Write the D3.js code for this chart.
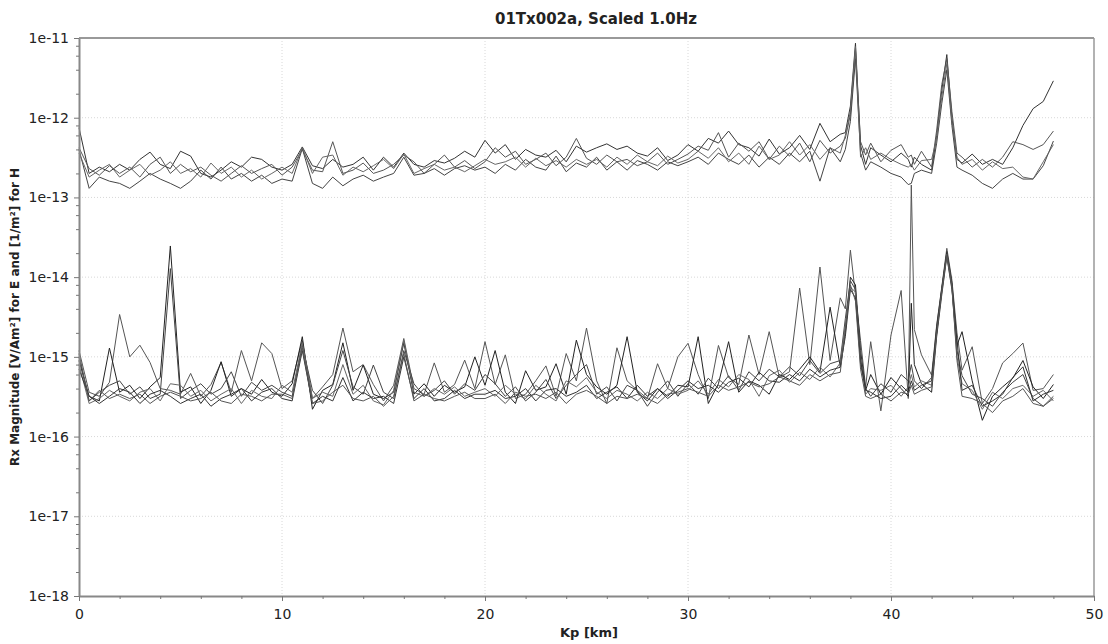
<!DOCTYPE html>
<html>
<head>
<meta charset="utf-8">
<script src="https://cdn.jsdelivr.net/npm/d3@7"></script>
<style>
body { margin: 0; background: #fff; }
</style>
</head>
<body>
<div id="chart"></div>
<script>
// sampling positions along the line, km
const kp = [
  0, 0.5, 1, 1.5, 2, 2.5, 3, 3.5, 4, 4.5,
  5, 5.5, 6, 6.5, 7, 7.5, 8, 8.5, 9, 9.5,
  10, 10.5, 11, 11.5, 12, 12.5, 13, 13.5, 14, 14.5,
  15, 15.5, 16, 16.5, 17, 17.5, 18, 18.5, 19, 19.5,
  20, 20.5, 21, 21.5, 22, 22.5, 23, 23.5, 24, 24.5,
  25, 25.5, 26, 26.5, 27, 27.5, 28, 28.5, 29, 29.5,
  30, 30.5, 31, 31.5, 32, 32.5, 33, 33.5, 34, 34.5,
  35, 35.5, 36, 36.5, 37, 37.5,
  37.75, 38, 38.25, 38.5, 38.75, 39, 39.5, 40, 40.5, 40.85,
  41, 41.15, 41.5, 42, 42.25, 42.5, 42.75, 43, 43.25, 43.5,
  44, 44.5, 45, 45.5, 46, 46.5, 47, 47.5, 48
];

// H curves, in units of 1e-13
const upperUnit = 1e-13;
const upper1 = [
  7.5, 2.0, 2.4, 2.1, 2.6, 2.2, 3.0, 3.7, 2.6, 2.3,
  3.8, 3.3, 2.0, 1.8, 2.2, 2.8, 2.4, 3.2, 3.0, 2.4,
  2.2, 2.6, 4.3, 2.5, 2.3, 3.0, 2.4, 2.6, 3.2, 2.2,
  3.2, 2.4, 3.6, 2.6, 2.4, 2.9, 2.7, 3.1, 3.8, 3.2,
  5.2, 3.6, 4.6, 3.0, 4.0, 3.4, 3.2, 3.9, 2.8, 4.4,
  3.7, 4.2, 4.7, 4.0, 4.4, 3.6, 3.3, 4.2, 2.9, 3.4,
  4.6, 3.8, 5.5, 4.8, 6.8, 4.6, 4.2, 3.3, 5.4, 3.5,
  4.2, 6.0, 4.0, 8.5, 5.0, 6.2,
  6.5, 14, 86, 4.5, 2.6, 4.2, 3.4, 2.8, 3.6, 3.0,
  2.4, 3.2, 2.6, 2.2, 6.0, 22, 62, 10, 3.0, 2.7,
  3.5, 2.6, 3.0, 2.6, 4.2, 8.0, 13, 16, 29
];
const upper2 = [
  4.2, 2.3, 1.9, 2.5, 2.0, 2.4, 1.8, 2.6, 3.2, 2.0,
  2.6, 2.1, 2.4, 1.9, 1.6, 2.0, 2.5, 2.0, 2.3, 2.6,
  1.9, 2.4, 4.0, 2.2, 2.1, 5.0, 2.0, 2.2, 2.7, 2.0,
  2.2, 2.6, 3.4, 2.8, 2.0, 2.6, 3.4, 2.4, 2.9, 2.3,
  2.8, 4.2, 3.2, 3.8, 2.6, 3.0, 3.6, 2.5, 3.2, 5.5,
  3.1, 2.6, 3.4, 2.8, 3.0, 2.5, 2.8, 3.6, 2.6, 3.0,
  3.5, 4.4, 3.9, 6.5, 3.2, 4.8, 3.8, 5.0, 3.0, 4.4,
  3.3, 4.8, 2.8, 5.2, 3.6, 4.4,
  5.5, 11, 70, 5.0, 3.4, 4.8, 2.8, 3.9, 4.6, 3.2,
  3.4, 2.6, 3.8, 2.4, 7.0, 26, 55, 12, 3.6, 3.2,
  2.4, 3.0, 2.4, 3.2, 5.0, 4.6, 4.0, 4.6, 6.8
];
const upper3 = [
  4.0, 1.3, 1.8, 1.6, 1.5, 1.3, 1.6, 2.0, 1.7, 1.5,
  1.3, 1.6, 2.2, 1.7, 2.4, 1.7, 2.0, 1.6, 1.9, 1.5,
  1.7, 1.6, 4.1, 1.5, 1.3, 1.8, 1.4, 1.7, 1.9, 1.6,
  1.8, 2.0, 3.2, 1.9, 2.0, 2.3, 1.9, 2.3, 2.5, 2.2,
  2.4, 2.0, 2.6, 2.2, 3.0, 2.4, 2.2, 3.3, 2.1, 2.7,
  2.4, 3.2, 2.2, 2.8, 2.2, 2.9, 2.6, 2.2, 2.8, 2.5,
  2.8, 3.2, 2.6, 3.6, 3.0, 2.6, 3.4, 2.4, 3.2, 2.6,
  3.6, 2.8, 3.8, 1.6, 4.2, 2.8,
  4.0, 9, 55, 3.6, 2.2, 2.8, 2.4, 2.0, 1.8, 1.45,
  1.5, 2.0, 2.2, 2.0, 4.8, 15, 40, 8, 2.4, 2.2,
  1.9, 1.5, 1.3, 1.7, 2.0, 1.7, 1.7, 2.5, 5.1
];
const upper4 = [
  3.6, 1.8, 2.2, 2.6, 1.8, 2.2, 2.6, 1.9, 2.2, 2.8,
  2.0, 2.3, 1.8, 2.7, 2.0, 2.4, 1.8, 2.2, 1.7, 2.0,
  2.4, 2.0, 4.2, 2.0, 3.2, 3.4, 1.9, 2.4, 2.1, 2.5,
  3.0, 2.3, 3.5, 2.0, 2.3, 2.6, 2.2, 2.4, 2.1, 2.5,
  3.0, 2.6, 2.8, 3.2, 2.4, 3.1, 2.5, 2.9, 2.4, 3.0,
  2.6, 3.0, 2.4, 3.2, 2.6, 3.4, 2.8, 2.5, 3.3, 2.7,
  3.0, 3.8, 3.1, 4.2, 2.8, 3.6, 2.6, 4.4, 3.0, 3.4,
  5.0, 3.4, 4.6, 3.0, 4.2, 3.6,
  6.0, 12, 78, 3.2, 4.2, 3.0, 3.6, 3.0, 2.6, 2.4,
  2.6, 2.2, 2.9, 3.0, 5.5, 18, 48, 9, 3.2, 2.6,
  3.0, 2.2, 2.8, 2.3, 2.4, 1.8, 1.7, 2.8, 4.6
];

// E curves, in units of 1e-16
const lowerUnit = 1e-16;
const lower1 = [
  12, 3.6, 3.2, 4.8, 34, 10, 14, 8.5, 4.0, 3.8,
  3.4, 6.2, 3.2, 4.5, 8.5, 3.6, 12, 5.0, 15, 11,
  4.0, 5.0, 16, 3.0, 4.2, 6.0, 23, 6.5, 8.0, 4.5,
  2.8, 4.4, 17, 4.0, 3.4, 8.4, 3.6, 4.5, 9.1, 4.0,
  15.5, 4.5, 10.6, 3.0, 3.4, 5.0, 7.7, 3.2, 11, 5.0,
  23, 5.0, 2.6, 13, 5.0, 3.8, 3.0, 8.2, 4.0, 10,
  14.8, 6.0, 3.0, 13.9, 5.5, 4.5, 18.8, 6.0, 20.7, 5.5,
  6.5, 73, 8.0, 134, 9.0, 55,
  40, 218, 60, 16, 4.2, 15.5, 2.1, 18.8, 68, 3.0,
  1430, 22, 10.6, 5.9, 25, 75, 230, 92, 20, 6.8,
  13.4, 2.6, 4.0, 8.4, 11, 14.9, 3.8, 4.0, 6.0
];
const lower2 = [
  9.0, 3.2, 2.8, 12.9, 3.6, 4.4, 3.0, 4.2, 5.5, 246,
  3.6, 4.2, 2.6, 3.8, 8.7, 3.2, 4.0, 3.4, 5.2, 3.6,
  3.2, 4.6, 17.9, 2.2, 3.8, 4.5, 15, 3.8, 7.9, 3.4,
  3.0, 3.6, 15, 3.4, 4.6, 3.2, 4.4, 3.6, 4.2, 10,
  4.4, 12, 3.6, 2.6, 6.7, 3.8, 4.2, 8.2, 3.4, 16.2,
  6.0, 4.2, 3.4, 4.4, 17.9, 3.6, 2.8, 4.0, 3.2, 4.4,
  4.2, 17.9, 2.6, 4.6, 15.5, 3.6, 5.0, 4.4, 3.4, 6.0,
  5.2, 7.0, 10, 6.5, 42, 7.5,
  20, 100, 80, 12, 3.8, 6.0, 3.4, 5.5, 4.0, 3.2,
  47, 8.0, 4.6, 3.6, 18, 60, 180, 70, 14, 20.7,
  5.0, 1.6, 3.2, 4.2, 5.4, 9.0, 4.2, 3.0, 4.5
];
const lower3 = [
  10, 2.8, 3.6, 4.4, 5.0, 3.4, 4.2, 3.0, 3.4, 128,
  3.0, 3.8, 4.6, 3.4, 4.0, 6.5, 3.2, 4.8, 3.8, 4.4,
  3.6, 3.2, 14, 3.8, 2.6, 4.4, 12, 4.2, 3.4, 7.9,
  3.6, 3.0, 12, 4.6, 3.2, 3.8, 5.0, 3.4, 4.6, 3.8,
  6.0, 4.6, 3.2, 4.2, 2.8, 3.6, 5.2, 3.0, 4.4, 6.0,
  8.0, 3.4, 4.2, 2.8, 4.4, 3.8, 2.4, 3.6, 5.0, 3.2,
  4.6, 3.4, 5.4, 4.0, 5.8, 3.8, 6.5, 5.0, 7.0, 5.6,
  7.5, 5.8, 9.0, 6.2, 8.2, 9.0,
  30, 90, 70, 8.0, 4.0, 3.2, 4.6, 3.6, 6.0, 5.0,
  8.0, 5.0, 4.0, 5.5, 20, 70, 200, 80, 12, 5.8,
  3.4, 3.0, 2.4, 3.6, 4.8, 6.0, 3.0, 2.4, 3.2
];
const lower4 = [
  8.0, 2.6, 3.0, 3.8, 3.2, 2.8, 3.6, 4.0, 2.8, 4.6,
  4.4, 3.2, 3.8, 2.8, 3.4, 4.0, 2.6, 3.8, 3.2, 3.0,
  4.4, 3.6, 15, 3.0, 3.6, 3.2, 8.0, 3.4, 4.4, 2.8,
  2.5, 3.8, 16, 3.6, 3.2, 4.0, 3.4, 4.2, 3.2, 3.6,
  4.0, 3.2, 4.4, 3.4, 3.0, 4.4, 3.4, 2.8, 5.0, 4.2,
  5.5, 3.6, 3.0, 3.8, 3.4, 2.8, 3.6, 3.0, 4.0, 3.4,
  3.8, 5.0, 3.4, 5.2, 4.2, 6.0, 5.2, 3.2, 5.8, 6.8,
  4.8, 6.4, 5.2, 7.4, 5.6, 8.4,
  25, 75, 65, 10, 3.4, 4.0, 3.8, 4.4, 3.2, 4.2,
  6.0, 4.2, 5.0, 4.4, 22, 65, 190, 75, 10, 4.6,
  3.8, 2.2, 3.6, 3.0, 4.0, 4.4, 3.2, 3.8, 2.8
];
const lower5 = [
  7.0, 3.2, 2.6, 3.2, 4.0, 3.6, 2.6, 3.4, 3.8, 3.2,
  2.6, 3.0, 3.4, 2.4, 3.0, 3.4, 4.0, 2.8, 3.6, 4.0,
  3.0, 2.8, 12, 2.6, 3.2, 2.8, 5.5, 2.8, 3.6, 3.0,
  3.2, 2.6, 10, 3.0, 4.0, 2.8, 3.0, 3.8, 3.0, 3.4,
  3.4, 3.8, 3.0, 3.2, 4.0, 2.8, 3.8, 4.0, 3.2, 3.6,
  4.4, 3.0, 3.6, 4.2, 3.0, 4.4, 3.2, 4.0, 3.0, 3.8,
  5.0, 4.0, 4.4, 3.6, 4.8, 5.4, 4.2, 6.4, 5.0, 4.8,
  6.0, 5.0, 7.0, 5.6, 6.8, 7.4,
  18, 70, 55, 9.0, 3.8, 3.6, 3.0, 3.2, 4.4, 3.6,
  5.0, 3.8, 4.4, 5.0, 24, 72, 210, 85, 16, 3.8,
  4.4, 2.4, 2.8, 3.4, 5.5, 7.5, 2.8, 3.4, 3.8
];
const lower6 = [
  11, 2.8, 3.8, 3.0, 3.4, 3.0, 3.4, 2.6, 3.2, 3.6,
  3.2, 2.8, 3.0, 3.6, 2.8, 2.6, 3.4, 3.2, 2.8, 3.4,
  3.4, 3.0, 13, 2.6, 2.8, 3.6, 4.4, 3.0, 2.8, 3.2,
  2.4, 3.2, 11, 2.8, 3.4, 3.0, 2.8, 3.2, 3.6, 3.0,
  3.0, 3.4, 2.6, 3.6, 3.2, 3.4, 3.0, 3.6, 2.6, 3.4,
  3.8, 3.2, 2.6, 3.2, 3.0, 3.4, 3.0, 2.6, 3.4, 3.6,
  4.0, 3.6, 3.2, 4.4, 3.8, 4.2, 4.8, 4.2, 4.6, 5.6,
  5.0, 4.4, 6.0, 5.0, 6.0, 6.4,
  22, 80, 50, 7.0, 3.2, 3.0, 3.4, 2.8, 3.6, 3.4,
  4.4, 3.4, 3.8, 4.2, 20, 68, 195, 78, 9.0, 3.2,
  3.0, 2.6, 2.0, 2.8, 3.2, 4.0, 2.6, 2.4, 3.0
];

const xTicks = [0, 10, 20, 30, 40, 50];
const yTicks = [1e-18, 1e-17, 1e-16, 1e-15, 1e-14, 1e-13, 1e-12, 1e-11];

const W = 1108, H = 644;
const mar = {top: 38, right: 14, bottom: 48, left: 79};

const svg = d3.select("#chart").append("svg")
  .attr("width", W)
  .attr("height", H)
  .style("font-family", "'DejaVu Sans', sans-serif");

const x = d3.scaleLinear().domain([0, 50]).range([mar.left, W - mar.right]);
const y = d3.scaleLog().domain([1e-18, 1e-11]).range([H - mar.bottom, mar.top]);

// minor ticks: every 2 km, and 2,4,6,8 inside each decade
const xMinor = d3.range(0, 51, 2).filter(v => v % 10 !== 0);
const yMinor = [];
yTicks.slice(0, -1).forEach(d => [2, 4, 6, 8].forEach(k => yMinor.push(d * k)));

// dotted grid
svg.append("g").selectAll("line").data(xTicks.slice(1, -1)).enter().append("line")
  .attr("x1", d => x(d)).attr("x2", d => x(d))
  .attr("y1", mar.top).attr("y2", H - mar.bottom)
  .attr("stroke", "#d8d8d8").attr("stroke-dasharray", "1,2");
svg.append("g").selectAll("line").data(yTicks.slice(1, -1)).enter().append("line")
  .attr("x1", mar.left).attr("x2", W - mar.right)
  .attr("y1", d => y(d)).attr("y2", d => y(d))
  .attr("stroke", "#d8d8d8").attr("stroke-dasharray", "1,2");

// curves
const line = d3.line()
  .x(d => x(d[0]))
  .y(d => y(d[1]));

const curves = [
  {vals: upper1, unit: upperUnit, color: "#333"},
  {vals: upper2, unit: upperUnit, color: "#555"},
  {vals: upper3, unit: upperUnit, color: "#444"},
  {vals: upper4, unit: upperUnit, color: "#666"},
  {vals: lower1, unit: lowerUnit, color: "#555"},
  {vals: lower2, unit: lowerUnit, color: "#222"},
  {vals: lower3, unit: lowerUnit, color: "#444"},
  {vals: lower4, unit: lowerUnit, color: "#666"},
  {vals: lower5, unit: lowerUnit, color: "#333"},
  {vals: lower6, unit: lowerUnit, color: "#555"}
];

svg.append("g").selectAll("path").data(curves).enter().append("path")
  .attr("d", c => line(c.vals.map((v, i) => [kp[i], v * c.unit])))
  .attr("fill", "none")
  .attr("stroke", c => c.color)
  .attr("stroke-width", 1)
  .attr("stroke-linejoin", "round");

// frame
svg.append("line")
  .attr("x1", mar.left).attr("x2", W - mar.right)
  .attr("y1", mar.top).attr("y2", mar.top)
  .attr("stroke", "#999").attr("stroke-width", 2);
svg.append("line")
  .attr("x1", W - mar.right).attr("x2", W - mar.right)
  .attr("y1", mar.top).attr("y2", H - mar.bottom)
  .attr("stroke", "#999").attr("stroke-width", 1.5);

// axes
svg.append("g")
  .attr("transform", "translate(0," + (H - mar.bottom) + ")")
  .call(d3.axisBottom(x).tickValues(xTicks).tickSize(5).tickPadding(8).tickSizeOuter(0));
svg.append("g")
  .attr("transform", "translate(0," + (H - mar.bottom) + ")")
  .call(d3.axisBottom(x).tickValues(xMinor).tickSize(3).tickFormat("").tickSizeOuter(0))
  .select(".domain").remove();

svg.append("g")
  .attr("transform", "translate(" + mar.left + ",0)")
  .call(d3.axisLeft(y).tickValues(yTicks).tickSize(5).tickPadding(5).tickSizeOuter(0)
    .tickFormat(d => "1e" + Math.round(Math.log10(d))));
svg.append("g")
  .attr("transform", "translate(" + mar.left + ",0)")
  .call(d3.axisLeft(y).tickValues(yMinor).tickSize(3).tickFormat("").tickSizeOuter(0))
  .select(".domain").remove();

svg.selectAll(".domain").attr("stroke", "#888").attr("stroke-width", 2);
svg.selectAll(".tick line").attr("stroke", "#777");
svg.selectAll(".tick text")
  .attr("fill", "#222")
  .style("font-family", "'DejaVu Sans', sans-serif")
  .style("font-size", "14px");

// titles
svg.append("text")
  .attr("x", 596).attr("y", 24)
  .attr("text-anchor", "middle")
  .style("font-weight", "bold").style("font-size", "15px")
  .attr("fill", "#222")
  .text("01Tx002a, Scaled 1.0Hz");

svg.append("text")
  .attr("x", 589).attr("y", 637)
  .attr("text-anchor", "middle")
  .style("font-weight", "bold").style("font-size", "13px")
  .attr("fill", "#222")
  .text("Kp [km]");

svg.append("text")
  .attr("transform", "translate(19," + ((mar.top + H - mar.bottom) / 2) + ") rotate(-90)")
  .attr("text-anchor", "middle")
  .style("font-weight", "bold").style("font-size", "12px")
  .attr("fill", "#222")
  .text("Rx Magnitude [V/Am²] for E and [1/m²] for H");
</script>
</body>
</html>
